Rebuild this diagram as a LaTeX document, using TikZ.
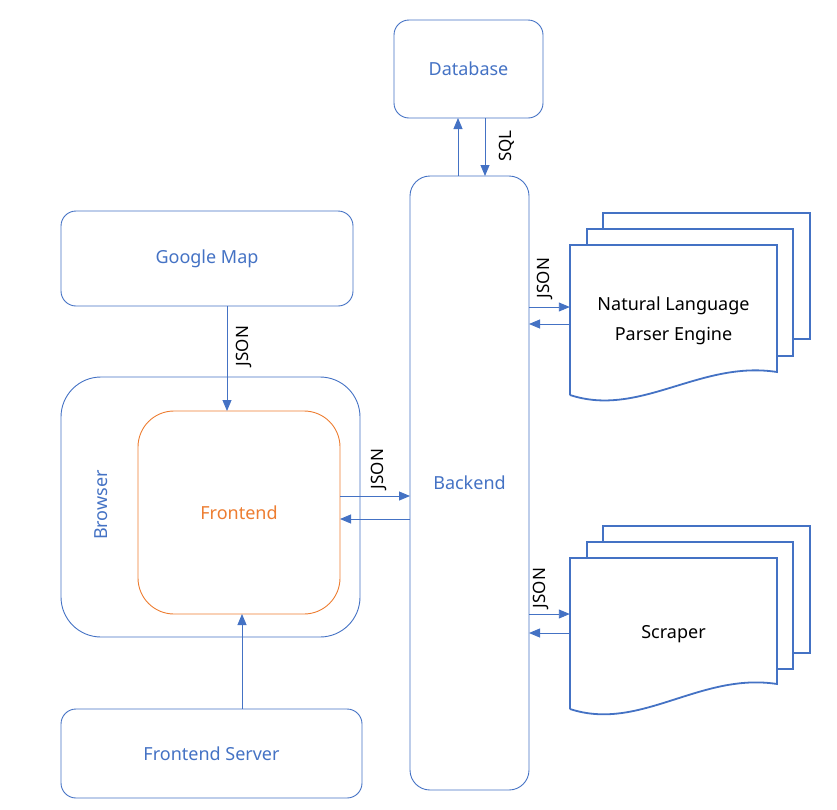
\documentclass[tikz,border=0pt]{standalone}
\usepackage{fontspec}
\setmainfont{Noto Sans}
\usetikzlibrary{arrows.meta}
\definecolor{mblue}{HTML}{4472C4}
\definecolor{morange}{HTML}{ED7D31}
\begin{document}
\begin{tikzpicture}[x=1pt,y=-1pt,
  box/.style={draw=mblue,line width=0.9pt,rounded corners=#1,inner sep=0pt,outer sep=0pt,text=mblue,font=\fontsize{18}{22}\selectfont},
  box/.default=15pt,
  arr/.style={draw=mblue,line width=0.9pt,-{Triangle[length=11pt,width=9pt]}},
  lbl/.style={font=\fontsize{17}{20}\selectfont,rotate=90,inner sep=0pt,text=black},
  doc/.style={draw=mblue,line width=1.8pt,line join=miter},
  doctext/.style={font=\fontsize{18}{30}\selectfont,align=center,text=black,inner sep=0pt}]
\useasboundingbox (0,0) rectangle (837,809);

% boxes
\node[box,minimum width=149pt,minimum height=98pt] (db) at (468.5,69) {Database};
\node[box=20pt,minimum width=119pt,minimum height=614pt] (be) at (469.5,483) {Backend};
\node[box,minimum width=292pt,minimum height=95pt] (gm) at (207,258.5) {Google Map};
\node[box=40pt,minimum width=299pt,minimum height=260pt] (br) at (210.5,507) {};
\node[text=mblue,font=\fontsize{18}{22}\selectfont,rotate=90,inner sep=0pt] (brl) at (101,505) {Browser};
\node[box=36pt,draw=morange,text=morange,minimum width=202pt,minimum height=203pt] (fe) at (239,512.5) {Frontend};
\node[box,minimum width=301pt,minimum height=89pt] (fs) at (211.5,753.5) {Frontend Server};

% document stacks
\draw[doc] (603,229) -- (603,213) -- (810,213) -- (810,339) -- (793,339);
\draw[doc] (587,245) -- (587,229) -- (793,229) -- (793,356) -- (777,356);
\draw[doc,fill=white] (570,395) -- (570,245) -- (777,245) -- (777,372)
  .. controls (700,360) and (640,418) .. (570,395);
\node[inner sep=0pt,minimum width=207pt,minimum height=127pt] (nlp) at (673.5,308.5) {};
\node[doctext] (nlpt) at (673.5,321) {Natural Language\\Parser Engine};

\draw[doc] (603,542) -- (603,526) -- (810,526) -- (810,653) -- (793,653);
\draw[doc] (587,558) -- (587,542) -- (793,542) -- (793,669) -- (777,669);
\draw[doc,fill=white] (570,709) -- (570,558) -- (777,558) -- (777,684)
  .. controls (700,672) and (640,732) .. (570,709);
\node[inner sep=0pt,minimum width=207pt,minimum height=126pt] (scr) at (673.5,621) {};
\node[doctext] (scrt) at (673.5,634) {Scraper};

% helper coordinates
\coordinate (c458) at (458,0);
\coordinate (c485) at (485,0);
\coordinate (c227) at (227,0);
\coordinate (c242) at (242,0);
\coordinate (r496) at (0,496);
\coordinate (r519) at (0,519);
\coordinate (r307) at (0,307);
\coordinate (r324) at (0,324);
\coordinate (r614) at (0,614);
\coordinate (r633) at (0,633);

% connectors
\draw[arr] (be.north -| c458) -- (db.south -| c458);
\draw[arr] (db.south -| c485) -- (be.north -| c485);
\draw[arr] (gm.south -| c227) -- (fe.north -| c227);
\draw[arr] (fs.north -| c242) -- (fe.south -| c242);
\draw[arr] (fe.east |- r496) -- (be.west |- r496);
\draw[arr] (be.west |- r519) -- (fe.east |- r519);
\draw[arr] (be.east |- r307) -- (nlp.west |- r307);
\draw[arr] (nlp.west |- r324) -- (be.east |- r324);
\draw[arr] (be.east |- r614) -- (scr.west |- r614);
\draw[arr] (scr.west |- r633) -- (be.east |- r633);

% labels
\node[lbl] (lsql) at (507,146) {SQL};
\node[lbl] (lj1) at (244,346) {JSON};
\node[lbl] (lj2) at (379,469) {JSON};
\node[lbl] (lj3) at (545,278) {JSON};
\node[lbl] (lj4) at (541,588) {JSON};
\end{tikzpicture}
\end{document}
